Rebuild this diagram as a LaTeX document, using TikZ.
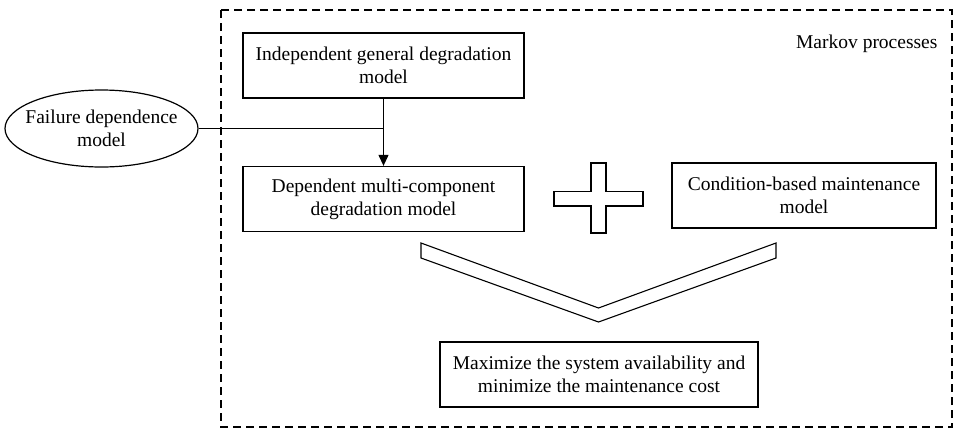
\documentclass[tikz,border=0pt]{standalone}
\usepackage{fontspec}
\setmainfont{Liberation Serif}
\usetikzlibrary{arrows.meta,shapes.geometric}
\begin{document}
\begin{tikzpicture}[x=1pt,y=-1pt,
  every node/.style={font=\fontsize{19.5}{23}\selectfont},
  modelbox/.style={draw,line width=1.3pt,inner sep=0pt,align=center},
  frameline/.style={draw,line width=1.1pt,dash pattern=on 8pt off 5pt},
  link/.style={line width=1.1pt},
  outline/.style={draw,line width=1.1pt,line join=miter}]
\useasboundingbox (0,0) rectangle (956,429);

% outer dashed frame
\draw[frameline] (221,10) rectangle (952,427);
\node[anchor=base east] (markov) at (941,48) {Markov processes};

% model boxes
\node[modelbox,minimum width=281pt,minimum height=65pt] (ind) at (383.5,65.5)
  {Independent general degradation\\model};
\node[modelbox,minimum width=281pt,minimum height=65pt] (dep) at (383.5,199)
  {Dependent multi-component\\degradation model};
\node[modelbox,minimum width=264pt,minimum height=65pt] (cbm) at (804,195.5)
  {Condition-based maintenance\\model};
\node[modelbox,minimum width=318pt,minimum height=65pt] (goal) at (599,374.5)
  {Maximize the system availability and\\minimize the maintenance cost};

% failure dependence ellipse, outline and label kept apart so the
% ellipse keeps its own size
\node[draw,ellipse,line width=1.2pt,inner sep=0pt,minimum width=193pt,
  minimum height=77pt] (fdm) at (101.5,128.5) {};
\node[align=center] (fdmtext) at (fdm.center) {Failure dependence\\model};

% connectors
\coordinate (join) at (ind.south |- fdm.east);
\draw[link] (fdm.east) -- (join);
\draw[link,-{Triangle[length=11pt,width=10pt]}] (ind.south) -- (dep.north);

% plus sign
\draw[outline] (591,163) -- (606,163) -- (606,191.5) -- (643,191.5) -- (643,206)
  -- (606,206) -- (606,233) -- (591,233) -- (591,206) -- (554,206) -- (554,191.5)
  -- (591,191.5) -- cycle;

% downward chevron
\draw[outline] (421,243) -- (598.5,308) -- (776,243) -- (776,258)
  -- (598.5,322) -- (421,258) -- cycle;
\end{tikzpicture}
\end{document}
